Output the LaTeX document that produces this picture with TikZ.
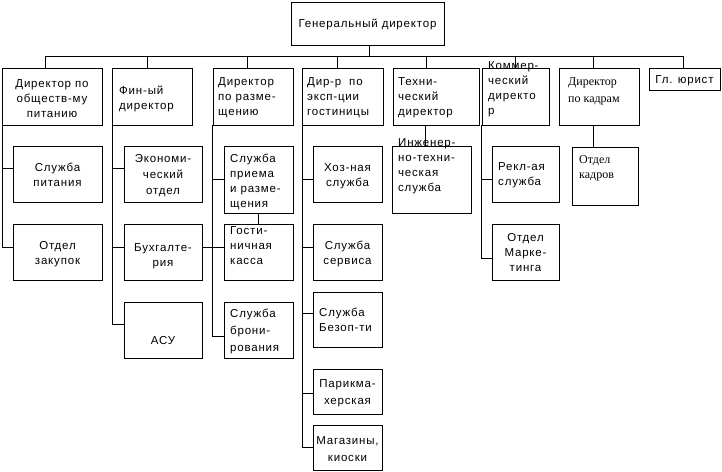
\documentclass[tikz,border=0pt]{standalone}
\usepackage{fontspec}
\newfontfamily\lsans[LetterSpace=7]{Liberation Sans}
\newfontfamily\lserif{Liberation Serif}
\newcommand\tfs{\lsans\fontsize{11.5}{15}\selectfont}
\newcommand\tfr{\lserif\fontsize{12}{17}\selectfont}
\begin{document}
\begin{tikzpicture}[x=1pt,y=-1pt,
  box/.style={draw,line width=0.9pt,rectangle,inner sep=0pt},
  conn/.style={line width=0.9pt},
  tl/.style={font=\tfs,inner sep=0pt,align=left,anchor=base west},
  tc/.style={font=\tfs,inner sep=0pt,align=center,anchor=base},
  tr/.style={font=\tfr,inner sep=0pt,align=left,anchor=base west}]
\useasboundingbox (0,0) rectangle (722,471);
% boxes
\node[box,minimum width=153pt,minimum height=43pt] (gen) at (367.5,23.5) {};
\node[box,minimum width=100pt,minimum height=57pt] (B1) at (52,96.5) {};
\node[box,minimum width=80pt,minimum height=57pt] (B2) at (152,96.5) {};
\node[box,minimum width=80pt,minimum height=57pt] (B3) at (253,96.5) {};
\node[box,minimum width=81pt,minimum height=57pt] (B4) at (342.5,96.5) {};
\node[box,minimum width=86pt,minimum height=57pt] (B5) at (436,96.5) {};
\node[box,minimum width=67pt,minimum height=57pt] (B6) at (515.5,96.5) {};
\node[box,minimum width=80pt,minimum height=57pt] (B7) at (599,96.5) {};
\node[box,minimum width=71pt,minimum height=22pt] (B8) at (684.5,79) {};
\node[box,minimum width=89pt,minimum height=56pt] (S1) at (57.5,174) {};
\node[box,minimum width=89pt,minimum height=56pt] (S2) at (57.5,252) {};
\node[box,minimum width=78pt,minimum height=56pt] (E1) at (163,174) {};
\node[box,minimum width=78pt,minimum height=56pt] (E2) at (163,252) {};
\node[box,minimum width=78pt,minimum height=56pt] (E3) at (163,330) {};
\node[box,minimum width=69pt,minimum height=67pt] (R1) at (258.5,179.5) {};
\node[box,minimum width=69pt,minimum height=56pt] (R2) at (258.5,252) {};
\node[box,minimum width=69pt,minimum height=56pt] (R3) at (258.5,330) {};
\node[box,minimum width=69pt,minimum height=56pt] (H1) at (347.5,174) {};
\node[box,minimum width=69pt,minimum height=56pt] (H2) at (347.5,252) {};
\node[box,minimum width=69pt,minimum height=55pt] (H3) at (347.5,319.5) {};
\node[box,minimum width=69pt,minimum height=45pt] (H4) at (347.5,391.5) {};
\node[box,minimum width=69pt,minimum height=45pt] (H5) at (347.5,447.5) {};
\node[box,minimum width=79pt,minimum height=67pt] (T1) at (431.5,179.5) {};
\node[box,minimum width=67pt,minimum height=56pt] (K1) at (525.5,174) {};
\node[box,minimum width=67pt,minimum height=56pt] (K2) at (525.5,252) {};
\node[box,minimum width=66pt,minimum height=58pt] (P1) at (605,176) {};
% texts (anchor at baseline of last line)
\node[tc,anchor=center] (gen-t) at (367.5,24) {Генеральный директор};
\node[tc] (B1-t) at (52,117) {Директор по\\обществ-му\\питанию};
\node[tl] (B2-t) at (119,109) {Фин-ый\\директор};
\node[tl] (B3-t) at (218,115) {Директор\\по разме-\\щению};
\node[tl] (B4-t) at (307,115) {Дир-р\ \ по\\эксп-ции\\гостиницы};
\node[tl] (B5-t) at (398,115) {Техни-\\ческий\\директор};
\node[tl] (B6-t) at (488,114) {Коммер-\\ческий\\директо\\р};
\node[tr] (B7-t) at (568,102) {Директор\\по кадрам};
\node[tc] (B8-t) at (684.5,83) {Гл. юрист};
\node[tc] (S1-t) at (57.5,186) {Служба\\питания};
\node[tc] (S2-t) at (57.5,264) {Отдел\\закупок};
\node[tc,font=\lsans\fontsize{11.5}{16}\selectfont] (E1-t) at (163,194) {Экономи-\\ческий\\отдел};
\node[tc] (E2-t) at (163,266) {Бухгалте-\\рия};
\node[tc] (E3-t) at (163,344) {АСУ};
\node[tl] (R1-t) at (230,207) {Служба\\приема\\и разме-\\щения};
\node[tl] (R2-t) at (230,264) {Гости-\\ничная\\касса};
\node[tl,font=\lsans\fontsize{11.5}{17}\selectfont] (R3-t) at (230,351) {Служба\\брони-\\рования};
\node[tc] (H1-t) at (347.5,186) {Хоз-ная\\служба};
\node[tc] (H2-t) at (347.5,264) {Служба\\сервиса};
\node[tl] (H3-t) at (319,331) {Служба\\Безоп-ти};
\node[tc,font=\lsans\fontsize{11.5}{17}\selectfont] (H4-t) at (347.5,404) {Парикма-\\херская};
\node[tc,font=\lsans\fontsize{11.5}{17}\selectfont] (H5-t) at (347.5,461) {Магазины,\\киоски};
\node[tl] (T1-t) at (398,191) {Инженер-\\но-техни-\\ческая\\служба};
\node[tl] (K1-t) at (498,185) {Рекл-ая\\служба};
\node[tc] (K2-t) at (525.5,271) {Отдел\\Марке-\\тинга};
\node[tr,font=\lserif\fontsize{12}{15}\selectfont] (P1-t) at (579,178) {Отдел\\кадров};
% bus
\coordinate (busL) at (45,56);
\coordinate (busR) at (683,56);
\draw[conn] (busL) -- (busR);
\draw[conn] ([xshift=1.5pt]gen.south) -- ++(0,11);
\draw[conn] ([xshift=-7pt]B1.north) -- ++(0,-12);
\draw[conn] ([xshift=-5pt]B2.north) -- ++(0,-12);
\draw[conn] ([xshift=-6pt]B3.north) -- ++(0,-12);
\draw[conn] ([xshift=-5.5pt]B4.north) -- ++(0,-12);
\draw[conn] ([xshift=-10pt]B5.north) -- ++(0,-12);
\draw[conn] (B6.north) -- ++(0,-12);
\draw[conn] ([xshift=-6pt]B7.north) -- ++(0,-12);
\draw[conn] ([xshift=-1.5pt]B8.north) -- ++(0,-12);
% column 1
\draw[conn] ([xshift=1pt]B1.south west) |- ([yshift=6pt]S1.west);
\draw[conn] ([xshift=1pt]B1.south west) |- ([yshift=5pt]S2.west);
% column 2
\draw[conn] ([xshift=1pt]B2.south west) |- ([yshift=6pt]E1.west);
\draw[conn] ([xshift=1pt]B2.south west) |- ([yshift=5pt]E2.west);
\draw[conn] ([xshift=1pt]B2.south west) |- ([yshift=6pt]E3.west);
% column 3
\draw[conn] (B3.south west) |- (R1.west);
\draw[conn] (B3.south west) |- ([yshift=5pt]R2.west);
\draw[conn] (B3.south west) |- ([yshift=-6pt]R3.west);
\draw[conn] ([yshift=5pt]E2.east) -- ([yshift=5pt]R2.west);
\draw[conn] (R1.south) -- (R2.north);
% column 4
\draw[conn] ([xshift=1pt]B4.south west) |- ([yshift=-5pt]H1.west);
\draw[conn] ([xshift=1pt]B4.south west) |- ([yshift=5pt]H2.west);
\draw[conn] ([xshift=1pt]B4.south west) |- ([yshift=6.5pt]H3.west);
\draw[conn] ([xshift=1pt]B4.south west) |- ([yshift=-1.5pt]H4.west);
\draw[conn] ([xshift=1pt]B4.south west) |- (H5.west);
% column 5
\draw[conn] ([xshift=-11pt]B5.south) -- ([xshift=-6.5pt]T1.north);
% column 6
\draw[conn] (B6.south west) |- ([yshift=-5pt]K1.west);
\draw[conn] (B6.south west) |- ([yshift=-6pt]K2.west);
% column 7
\draw[conn] ([xshift=-6pt]B7.south) -- ([xshift=-12pt]P1.north);
\end{tikzpicture}
\end{document}
